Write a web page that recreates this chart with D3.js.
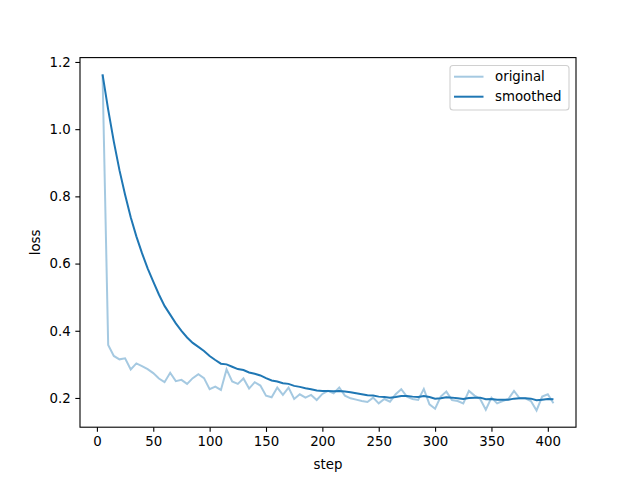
<!DOCTYPE html>
<html><head><meta charset="utf-8">
<script src="https://cdn.jsdelivr.net/npm/d3@7"></script>
<style>body{margin:0;background:#fff}svg{display:block}text{font-family:"DejaVu Sans",sans-serif}</style>
</head><body>
<svg id="c" width="640" height="480"></svg>
<script>
const steps = [5,10,15,20,25,30,35,40,45,50,55,60,65,70,75,80,85,90,95,100,105,110,115,120,125,130,135,140,145,150,155,160,165,170,175,180,185,190,195,200,205,210,215,220,225,230,235,240,245,250,255,260,265,270,275,280,285,290,295,300,305,310,315,320,325,330,335,340,345,350,355,360,365,370,375,380,385,390,395,400,405];
const original = [1.163,0.358,0.325,0.315,0.318,0.285,0.303,0.295,0.286,0.274,0.258,0.247,0.275,0.250,0.254,0.242,0.259,0.271,0.259,0.226,0.234,0.224,0.285,0.249,0.242,0.258,0.228,0.247,0.237,0.207,0.202,0.231,0.209,0.231,0.197,0.211,0.201,0.209,0.194,0.212,0.221,0.214,0.231,0.207,0.199,0.195,0.191,0.188,0.201,0.184,0.197,0.189,0.211,0.226,0.204,0.197,0.194,0.227,0.181,0.168,0.204,0.219,0.194,0.191,0.184,0.221,0.207,0.197,0.165,0.201,0.184,0.191,0.197,0.221,0.199,0.199,0.191,0.163,0.204,0.211,0.184];
const smoothed = [1.163,1.058,0.963,0.878,0.805,0.738,0.681,0.631,0.586,0.546,0.508,0.474,0.448,0.422,0.400,0.380,0.364,0.352,0.340,0.325,0.313,0.302,0.300,0.293,0.286,0.283,0.276,0.272,0.267,0.259,0.252,0.249,0.244,0.242,0.236,0.233,0.229,0.226,0.222,0.221,0.221,0.220,0.221,0.219,0.217,0.214,0.211,0.208,0.207,0.204,0.203,0.201,0.203,0.206,0.206,0.204,0.203,0.206,0.203,0.198,0.199,0.202,0.201,0.199,0.197,0.200,0.201,0.201,0.196,0.197,0.195,0.195,0.195,0.198,0.199,0.199,0.198,0.193,0.195,0.197,0.196];
const xTicks = [0,50,100,150,200,250,300,350,400];
const yTicks = [0.2,0.4,0.6,0.8,1.0,1.2];
const seriesNames = ["original","smoothed"];
const color = "#1f77b4";

const L=80, R=576, T=57.6, B=427.2;
const svg = d3.select("#c");
const xmin=d3.min(steps), xmax=d3.max(steps), xm=(xmax-xmin)*0.05;
const allY = original.concat(smoothed);
const ymin=d3.min(allY), ymax=d3.max(allY), ym=(ymax-ymin)*0.05;
const x = d3.scaleLinear().domain([xmin-xm, xmax+xm]).range([L,R]);
const y = d3.scaleLinear().domain([ymin-ym, ymax+ym]).range([B,T]);

const line = (vals) => d3.line().x((d,i)=>x(steps[i])).y(d=>y(d))(vals);
svg.append("path").attr("d", line(original)).attr("fill","none").attr("stroke",color).attr("stroke-opacity",0.4).attr("stroke-width",2);
svg.append("path").attr("d", line(smoothed)).attr("fill","none").attr("stroke",color).attr("stroke-width",2);

const xa = svg.append("g").attr("transform",`translate(0,${B})`).call(d3.axisBottom(x).tickValues(xTicks).tickSize(4.67).tickPadding(4.7).tickFormat(d3.format("d")));
const ya = svg.append("g").attr("transform",`translate(${L},0)`).call(d3.axisLeft(y).tickValues(yTicks).tickSize(4.67).tickPadding(4.7).tickFormat(d3.format(".1f")));
[xa,ya].forEach(a=>{a.select(".domain").remove();a.selectAll("line").attr("stroke","#000").attr("stroke-width",1.1);a.selectAll("text").attr("font-size",13.33).attr("fill","#000").attr("font-family","DejaVu Sans");});
svg.append("rect").attr("x",L).attr("y",T).attr("width",R-L).attr("height",B-T).attr("fill","none").attr("stroke","#000").attr("stroke-width",1.1);

svg.append("text").attr("x",(L+R)/2).attr("y",469).attr("text-anchor","middle").attr("font-size",13.33).text("step");
svg.append("text").attr("transform",`translate(40,${(T+B)/2}) rotate(-90)`).attr("text-anchor","middle").attr("font-size",13.33).text("loss");

const lg = svg.append("g");
lg.append("rect").attr("x",450).attr("y",65.5).attr("width",119).attr("height",44.5).attr("rx",3).attr("fill","#fff").attr("fill-opacity",0.8).attr("stroke","#d0d0d0").attr("stroke-width",1.1);
seriesNames.forEach((n,i)=>{
  const yy = 76.7 + i*20;
  lg.append("line").attr("x1",454).attr("x2",483.5).attr("y1",yy).attr("y2",yy).attr("stroke",color).attr("stroke-width",2).attr("stroke-opacity",i===0?0.4:1);
  lg.append("text").attr("x",495).attr("y",yy+4.6).attr("font-size",13.33).text(n);
});
</script>
</body></html>
